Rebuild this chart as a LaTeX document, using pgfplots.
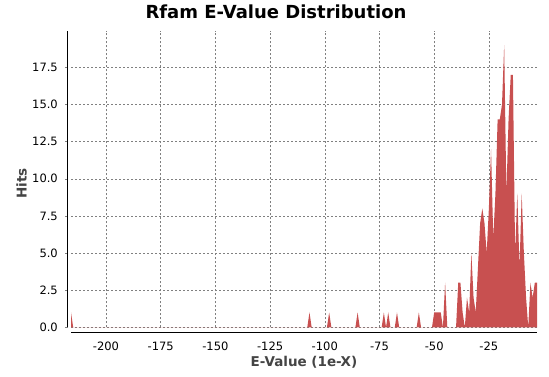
\documentclass[border=0pt]{standalone}
\usepackage{pgfplots}
\pgfplotsset{compat=1.18}
\usepackage{fontspec}
\setmainfont{DejaVu Sans}
\definecolor{areared}{RGB}{200,80,80}
\definecolor{labelgray}{RGB}{68,68,68}
\begin{document}
\begin{tikzpicture}[x=1pt,y=1pt]
\useasboundingbox (0,0) rectangle (549,377);
\node[font=\bfseries\fontsize{18}{20}\selectfont, anchor=base] at (276,358.5) {Rfam E-Value Distribution};
\begin{axis}[
  at={(71pt,49.7pt)}, anchor=south west,
  scale only axis, width=466pt, height=296.3pt,
  xmin=-216, xmax=-3, ymin=0, ymax=19.95,
  axis x line*=bottom, axis y line*=left,
  axis line style={draw=none},
  xtick={-200,-175,...,-25},
  ytick={0,2.5,...,17.5},
  xtick style={draw=none},
  ytick style={xshift=-3.5pt, draw=gray, line width=0.5pt},
  major tick length=2pt,
  tick align=outside,
  grid=major,
  major grid style={draw=gray, line width=0.45pt, dash pattern=on 2pt off 2pt},
  /pgf/number format/assume math mode=true,
  xticklabel style={font=\fontsize{11.5}{13}\selectfont, inner sep=0pt, anchor=north, yshift=-12.7pt},
  yticklabel style={font=\fontsize{11.5}{13}\selectfont, inner sep=0pt, anchor=east, xshift=-11pt,
    /pgf/number format/.cd, fixed, fixed zerofill, precision=1},
  xlabel={E-Value (1e-X)},
  xlabel style={at={(axis description cs:0.5,-0.117)}, anchor=center, font=\bfseries\fontsize{13.5}{15}\selectfont, text=labelgray},
  ylabel={Hits},
  ylabel style={at={(axis description cs:-0.1058,0.486)}, anchor=center, font=\bfseries\fontsize{13.5}{15}\selectfont, text=labelgray},
]
\addplot[draw=none, fill=areared] coordinates {
(-216,1) (-215,0) (-108,0) (-107,1) (-106,0) (-99,0) (-98,1) (-97,0)
(-86,0) (-85,1) (-84,0) (-74,0) (-73,1) (-72,0) (-71,1) (-70,0)
(-68,0) (-67,1) (-66,0) (-58,0) (-57,1) (-56,0)
(-51,0) (-50,1) (-49,1) (-48,1) (-47,1) (-46,0) (-45,3) (-44,0)
(-40,0) (-39,3) (-38,3) (-37,1) (-36,0) (-35,2) (-34,1) (-33,5) (-32,2) (-31,1)
(-30,4) (-29,7) (-28,8) (-27,7) (-26,5) (-25,8) (-24,12) (-23,6) (-22,9)
(-21,14) (-20,14) (-19,15) (-18,19) (-17,9) (-16,14) (-15,17) (-14,17)
(-13,5) (-12,9) (-11,4) (-10,9) (-9,5) (-8,2) (-7,0) (-6,3) (-5,2) (-4,3) (-3,3)
} \closedcycle;
\end{axis}
\draw[line width=0.8pt] (71,44.5) -- (537,44.5);
\draw[line width=0.8pt] (67.5,49.7) -- (67.5,346);
\end{tikzpicture}
\end{document}
